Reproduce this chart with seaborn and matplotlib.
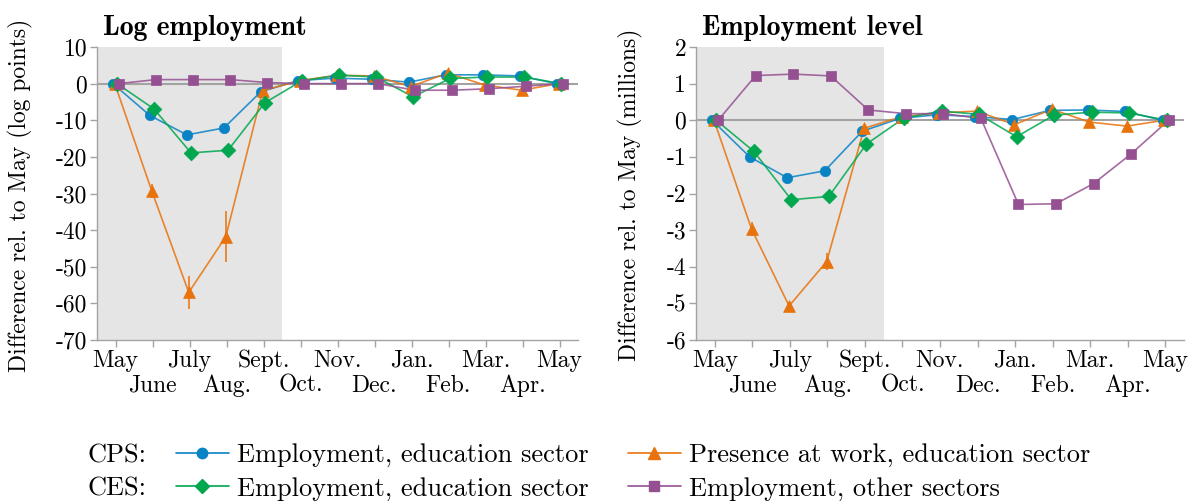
import matplotlib
matplotlib.use('Agg')
import matplotlib.pyplot as plt
from matplotlib.lines import Line2D
import seaborn as sns
import pandas as pd

sns.set_style('ticks')
plt.rcParams['font.family'] = ['cmr10', 'DejaVu Serif']
plt.rcParams['axes.unicode_minus'] = False
plt.rcParams['mathtext.fontset'] = 'cm'
plt.rcParams['text.color'] = 'black'
plt.rcParams['axes.labelcolor'] = 'black'

months = ['May', 'June', 'July', 'Aug.', 'Sept.', 'Oct.', 'Nov.', 'Dec.', 'Jan.', 'Feb.', 'Mar.', 'Apr.', 'May']

# log points
cps_emp_log = [0, -8.7, -14.0, -12.1, -2.2, 0.8, 1.5, 1.2, 0.4, 2.4, 2.4, 2.1, 0.0]
cps_work_log = [0, -29.3, -57.0, -41.8, -1.9, 0.8, 2.3, 2.1, -0.8, 2.9, -0.4, -1.8, 0.0]
ces_edu_log = [0, -6.9, -18.9, -18.2, -5.2, 0.8, 2.3, 1.8, -3.6, 1.4, 1.8, 1.8, 0.0]
ces_oth_log = [0, 1.1, 1.1, 1.1, 0.3, 0.0, 0.0, 0.0, -1.8, -1.8, -1.4, -0.7, 0.0]
cps_work_log_err = [0, 2.0, 4.5, 7.0, 0.5, 0.3, 0.3, 0.3, 0.3, 0.3, 0.3, 0.3, 0]

# millions
cps_emp_lvl = [0, -1.0, -1.57, -1.38, -0.3, 0.05, 0.15, 0.1, 0.02, 0.27, 0.28, 0.24, 0.0]
cps_work_lvl = [0, -2.97, -5.07, -3.86, -0.22, 0.1, 0.2, 0.25, -0.12, 0.3, -0.05, -0.16, 0.0]
ces_edu_lvl = [0, -0.85, -2.17, -2.08, -0.65, 0.06, 0.25, 0.16, -0.45, 0.14, 0.22, 0.2, 0.0]
ces_oth_lvl = [0, 1.22, 1.26, 1.21, 0.28, 0.18, 0.18, 0.05, -2.3, -2.28, -1.73, -0.92, 0.0]
cps_work_lvl_err = [0, 0.2, 0.12, 0.24, 0.05, 0.03, 0.03, 0.03, 0.03, 0.03, 0.03, 0.03, 0]
ces_oth_lvl_err = [0, 0, 0, 0, 0.1, 0.04, 0, 0, 0.12, 0.1, 0, 0, 0]

blue = '#0a83c4'
orange = '#e8720c'
green = '#00a74f'
purple = '#955092'
grey = '#a3a3a3'

series = [
    # name, color, marker, size, offset
    ('cps_emp', blue, 'o', 7.5, -0.07),
    ('cps_work', orange, '^', 8.5, -0.02),
    ('ces_edu', green, 'D', 7.5, 0.04),
    ('ces_oth', purple, 's', 7.5, 0.09),
]

FS = 17

fig = plt.figure(figsize=(11.93, 5.01), dpi=100)
ax1 = fig.add_axes([97 / 1193, 161 / 501, 481 / 1193, 293 / 501])
ax2 = fig.add_axes([696 / 1193, 161 / 501, 488 / 1193, 293 / 501])


def panel(ax, values, errors, title, ylabel, ylim, yticks, label_x):
    ax.axvspan(-0.5, 4.5, color='#e5e5e5', lw=0, zorder=0)
    ax.axhline(0, color=grey, lw=1.5, zorder=1)
    for (name, color, marker, size, off) in series:
        df = pd.DataFrame({'x': [i + off for i in range(len(months))], 'y': values[name]})
        if name in errors:
            err = pd.Series(errors[name])
            ax.vlines(df['x'], df['y'] - err, df['y'] + err,
                      color=color, lw=1.4, alpha=0.8, zorder=2)
        sns.lineplot(data=df, x='x', y='y', ax=ax, color=color, lw=1.2, alpha=0.85,
                     zorder=3, sort=False)
        sns.scatterplot(data=df, x='x', y='y', ax=ax, color=color, marker=marker,
                        s=size ** 2, edgecolor=color, linewidth=0.5, zorder=4)
    ax.set_xlim(-0.5, 12.5)
    ax.set_ylim(*ylim)
    ax.set_xticks(range(0, len(months), 2))
    ax.set_xticklabels(months[0::2], fontsize=FS)
    ax.set_xticks(range(1, len(months), 2), minor=True)
    ax.set_xticklabels(months[1::2], minor=True, fontsize=FS)
    ax.set_yticks(yticks)
    ax.set_yticklabels([str(t) for t in yticks], fontsize=FS)
    ax.tick_params(axis='both', which='both', colors=grey, labelcolor='black', length=5, width=1, pad=2)
    ax.tick_params(axis='x', which='minor', pad=20)
    for s in ['top', 'right']:
        ax.spines[s].set_visible(False)
    for s in ['left', 'bottom']:
        ax.spines[s].set_color(grey)
        ax.spines[s].set_linewidth(1)
    ax.set_xlabel('')
    ax.set_ylabel(ylabel, fontsize=17)
    ax.yaxis.set_label_coords(label_x, 0.495)
    ax.text(0.012, 1.02, title, transform=ax.transAxes, fontsize=20, family='cmb10',
            ha='left', va='bottom')
    ax.grid(False)


panel(ax1,
      {'cps_emp': cps_emp_log, 'cps_work': cps_work_log, 'ces_edu': ces_edu_log, 'ces_oth': ces_oth_log},
      {'cps_work': cps_work_log_err},
      'Log employment', 'Difference rel. to May (log points)', (-70, 10), list(range(-70, 11, 10)),
      -0.133)
panel(ax2,
      {'cps_emp': cps_emp_lvl, 'cps_work': cps_work_lvl, 'ces_edu': ces_edu_lvl, 'ces_oth': ces_oth_lvl},
      {'cps_work': cps_work_lvl_err, 'ces_oth': ces_oth_lvl_err},
      'Employment level', 'Difference rel. to May (millions)', (-6, 2), list(range(-6, 3)),
      -0.109)

LFS = 19
labels = ['Employment, education sector', 'Employment, education sector',
          'Presence at work, education sector', 'Employment, other sectors']
handles = []
for idx in [0, 2, 1, 3]:
    name, color, marker, size, off = series[idx]
    handles.append(Line2D([], [], color=color, marker=marker, markersize=size, lw=1.2))
fig.legend(handles, labels, ncol=2, loc='center left', bbox_to_anchor=(176 / 1193, 1 - 472 / 501),
           frameon=False, fontsize=LFS, handlelength=2.0, handletextpad=0.3, columnspacing=1.5,
           labelspacing=0.35, borderaxespad=0, borderpad=0)
fig.text(88 / 1193, 1 - 456 / 501, 'CPS:', fontsize=LFS, va='center', ha='left')
fig.text(88 / 1193, 1 - 489 / 501, 'CES:', fontsize=LFS, va='center', ha='left')

fig.savefig('out.png', dpi=100)
